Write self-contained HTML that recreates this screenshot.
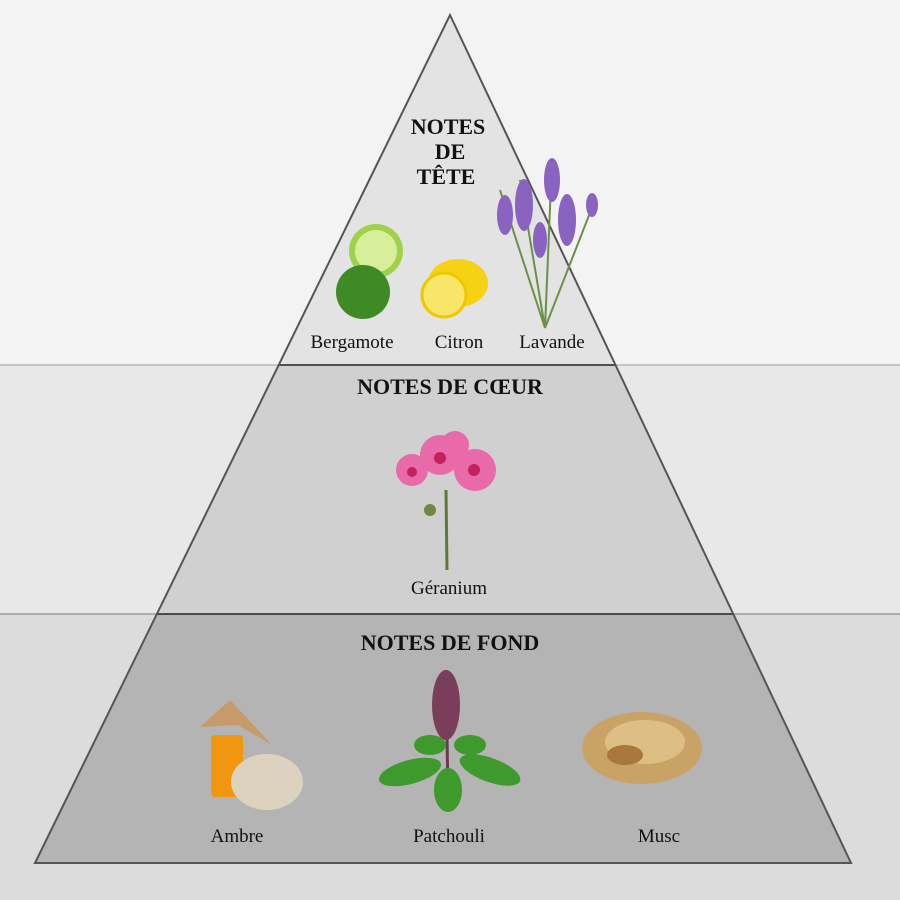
<!DOCTYPE html>
<html><head><meta charset="utf-8"><style>
html,body{margin:0;padding:0;background:#f3f3f3}
svg{display:block}
text{font-family:"Liberation Serif",serif;fill:#111}
.h{font-weight:bold;font-size:22px}
.l{font-size:19px}
</style></head><body>
<svg width="900" height="900" viewBox="0 0 900 900" xmlns="http://www.w3.org/2000/svg">
<rect x="0" y="0" width="900" height="365" fill="#f3f3f3"/>
<rect x="0" y="365" width="900" height="249" fill="#e8e8e8"/>
<rect x="0" y="614" width="900" height="286" fill="#dcdcdc"/>
<line x1="0" y1="365" x2="900" y2="365" stroke="#9a9a9a" stroke-width="1"/>
<line x1="0" y1="614" x2="900" y2="614" stroke="#8a8a8a" stroke-width="1.2"/>
<polygon points="450,15 278.7,365 615.5,365" fill="#e3e3e3"/>
<polygon points="278.7,365 615.5,365 733.3,614 156.9,614" fill="#d0d0d0"/>
<polygon points="156.9,614 733.3,614 851,863 35,863" fill="#b4b4b4"/>
<line x1="278.7" y1="365" x2="615.5" y2="365" stroke="#222" stroke-width="1.5"/>
<line x1="156.9" y1="614" x2="733.3" y2="614" stroke="#222" stroke-width="1.5"/>
<polygon points="450,15 851,863 35,863" fill="none" stroke="#555" stroke-width="2"/>

<text class="h" x="448" y="134" text-anchor="middle">NOTES</text>
<text class="h" x="450" y="159" text-anchor="middle">DE</text>
<text class="h" x="446" y="184" text-anchor="middle">TÊTE</text>
<circle cx="376" cy="251" r="27" fill="#9ed24a"/>
<circle cx="376" cy="251" r="21" fill="#d7ef9a"/>
<circle cx="363" cy="292" r="27" fill="#3e8a25"/>
<ellipse cx="458" cy="283" rx="30" ry="24" fill="#f5d214"/>
<circle cx="444" cy="295" r="22" fill="#f7e66a" stroke="#efc800" stroke-width="3"/>
<g stroke="#6c8f4a" stroke-width="2" fill="none">
<path d="M545 328 L552 160"/><path d="M545 328 L520 180"/><path d="M545 328 L595 200"/><path d="M545 328 L500 190"/>
</g>
<g fill="#8a62c0">
<ellipse cx="552" cy="180" rx="8" ry="22"/><ellipse cx="524" cy="205" rx="9" ry="26"/>
<ellipse cx="567" cy="220" rx="9" ry="26"/><ellipse cx="505" cy="215" rx="8" ry="20"/>
<ellipse cx="592" cy="205" rx="6" ry="12"/><ellipse cx="540" cy="240" rx="7" ry="18"/>
</g>
<text class="l" x="352" y="348" text-anchor="middle">Bergamote</text>
<text class="l" x="459" y="348" text-anchor="middle">Citron</text>
<text class="l" x="552" y="348" text-anchor="middle">Lavande</text>

<text class="h" x="450" y="394" text-anchor="middle">NOTES DE CŒUR</text>
<line x1="446" y1="490" x2="447" y2="570" stroke="#5b7a33" stroke-width="3"/>
<g fill="#e86aa8">
<circle cx="412" cy="470" r="16"/><circle cx="440" cy="455" r="20"/>
<circle cx="475" cy="470" r="21"/><circle cx="455" cy="445" r="14"/>
</g>
<g fill="#c4215f"><circle cx="440" cy="458" r="6"/><circle cx="474" cy="470" r="6"/><circle cx="412" cy="472" r="5"/></g>
<circle cx="430" cy="510" r="6" fill="#6e8b3d"/>
<text class="l" x="449" y="594" text-anchor="middle">Géranium</text>

<text class="h" x="450" y="650" text-anchor="middle">NOTES DE FOND</text>
<rect x="211" y="735" width="32" height="62" rx="4" fill="#f0960f"/>
<path d="M200 727 L230 700 L272 745 L238 725 Z" fill="#c79a6a"/>
<ellipse cx="267" cy="782" rx="36" ry="28" fill="#dcd2bd"/>
<line x1="446" y1="670" x2="448" y2="800" stroke="#6b3a4f" stroke-width="3"/>
<ellipse cx="446" cy="705" rx="14" ry="35" fill="#7a3e5a"/>
<g fill="#3f9a2e">
<ellipse cx="410" cy="772" rx="32" ry="12" transform="rotate(-15 410 772)"/>
<ellipse cx="490" cy="770" rx="32" ry="12" transform="rotate(20 490 770)"/>
<ellipse cx="448" cy="790" rx="14" ry="22"/>
<ellipse cx="430" cy="745" rx="16" ry="10"/><ellipse cx="470" cy="745" rx="16" ry="10"/>
</g>
<ellipse cx="642" cy="748" rx="60" ry="36" fill="#c9a266"/>
<ellipse cx="645" cy="742" rx="40" ry="22" fill="#ddbf86"/>
<ellipse cx="625" cy="755" rx="18" ry="10" fill="#a8783c"/>
<text class="l" x="237" y="842" text-anchor="middle">Ambre</text>
<text class="l" x="449" y="842" text-anchor="middle">Patchouli</text>
<text class="l" x="659" y="842" text-anchor="middle">Musc</text>
</svg>
</body></html>
